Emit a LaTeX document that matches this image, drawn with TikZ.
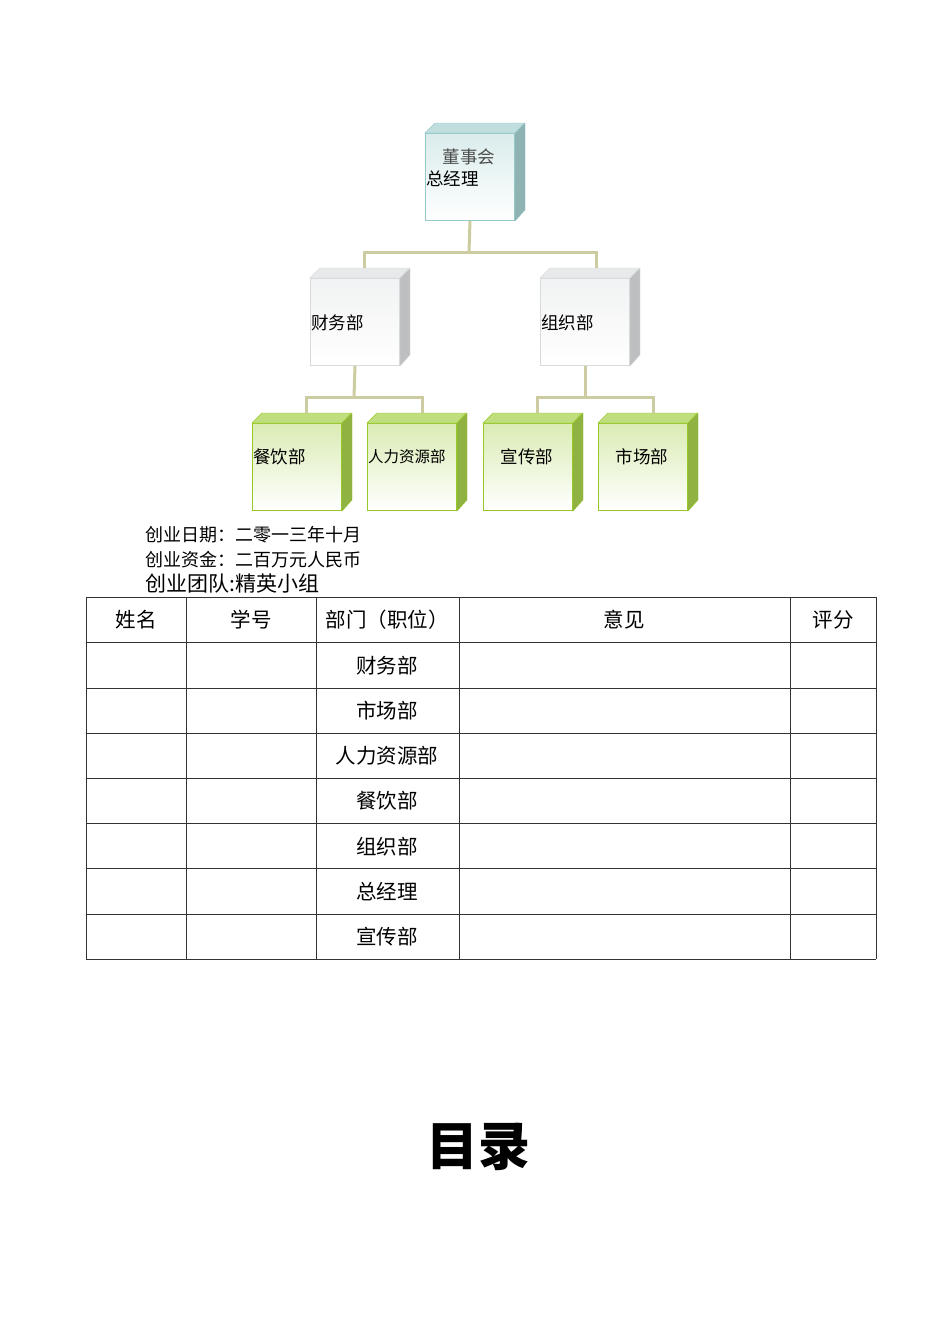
\documentclass[tikz,border=0pt]{standalone}
\usepackage{fontspec}
\setmainfont{Noto Sans CJK SC}
\begin{document}
\begin{tikzpicture}[x=1pt,y=-1pt,
  front/.style={draw=#1,line width=1pt,minimum width=89pt,minimum height=87pt,inner sep=0pt,anchor=north west},
  conn/.style={draw={rgb,255:red,204;green,204;blue,160},line width=3pt},
  lbl/.style={font=\fontsize{17.5}{19}\selectfont,inner sep=0pt},
  cell/.style={font=\fontsize{20.5}{22}\selectfont},
  tl/.style={draw=black!80,line width=0.6pt}]
\useasboundingbox (0,0) rectangle (950,1344);
\definecolor{tealE}{RGB}{150,200,200}
\definecolor{greyE}{RGB}{215,218,220}
\definecolor{grnE}{RGB}{150,200,40}
\newcommand\mkcube[5]{% name,x,y,edge,col
  \node[front=#4,top color=#5!35!white,bottom color=white] (#1) at (#2,#3) {};
  \fill[#5!60!white,draw=#4] (#1.north west) -- ++(10,-10) -- ++(89,0) -- (#1.north east) -- cycle;
  \fill[#5!70!gray,draw=#4] (#1.north east) -- ++(10,-10) -- ++(0,87) -- (#1.south east) -- cycle;
}
\mkcube{top}{425}{133}{tealE}{tealE}
\node[lbl,text=black!70] (t1) at (469,157) {董事会};
\node[lbl,anchor=west] (t2) at (426,179) {总经理};
\mkcube{fin}{310}{278}{greyE}{greyE}
\node[lbl,anchor=west] (tfin) at (311,323) {财务部};
\mkcube{org}{540}{278}{greyE}{greyE}
\node[lbl,anchor=west] (torg) at (541,323) {组织部};
\mkcube{cy}{252}{423}{grnE}{grnE}
\node[lbl,anchor=west] (tcy) at (253,457) {餐饮部};
\mkcube{rl}{367}{423}{grnE}{grnE}
\node[lbl,font=\fontsize{15.5}{17}\selectfont,anchor=west] (trl) at (368,457) {人力资源部};
\mkcube{xc}{483}{423}{grnE}{grnE}
\node[lbl] (txc) at (527,457) {宣传部};
\mkcube{sc}{598}{423}{grnE}{grnE}
\node[lbl] (tsc) at (642,457) {市场部};
% connectors
\draw[conn] (top.south) -- (469,252);
\draw[conn] (364,268) -- (364,252) -- (596,252) -- (596,268);
\draw[conn] (fin.south) -- (354,397);
\draw[conn] (306,413) -- (306,397) -- (422,397) -- (422,413);
\draw[conn] (org.south) -- (585,397);
\draw[conn] (537,413) -- (537,397) -- (653,397) -- (653,413);
% info text
\node[anchor=west,inner sep=0pt,font=\fontsize{18}{20}\selectfont] (d1) at (145,535) {创业日期：二零一三年十月};
\node[anchor=west,inner sep=0pt,font=\fontsize{18}{20}\selectfont] (d2) at (145,560) {创业资金：二百万元人民币};
\node[anchor=west,inner sep=0pt,font=\fontsize{21}{23}\selectfont] (d3) at (145,584) {创业团队:精英小组};
% table
\foreach \y in {597,642,688,733,778,823,868,914,959} \draw[tl] (86,\y) -- (876,\y);
\foreach \x in {86,186,316,459,790,876} \draw[tl] (\x,597) -- (\x,959);
\node[cell] (h1) at (136,620) {姓名};
\node[cell] (h2) at (251,620) {学号};
\node[cell] (h3) at (387,620) {部门（职位）};
\node[cell] (h4) at (624,620) {意见};
\node[cell] (h5) at (833,620) {评分};
\foreach \t [count=\i] in {财务部,市场部,人力资源部,餐饮部,组织部,总经理,宣传部}
  \node[cell] (r\i) at (387,{620+45.25*\i}) {\t};
\node[font=\fontsize{52}{56}\selectfont\bfseries] (ml) at (478,1147) {目录};
\end{tikzpicture}
\end{document}
